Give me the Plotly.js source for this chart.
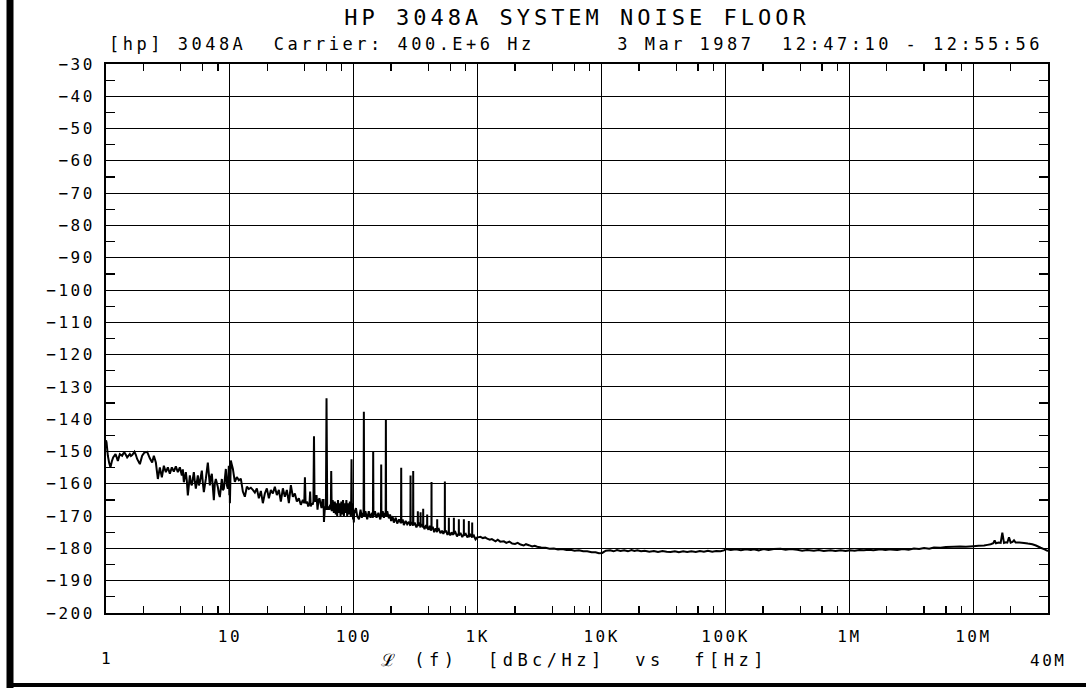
<!DOCTYPE html>
<html>
<head>
<meta charset="utf-8">
<script src="https://cdn.plot.ly/plotly-3.0.1.min.js"></script>
<style>
  html, body { margin: 0; padding: 0; background: #fff; }
  #chart { width: 1086px; height: 688px; }
  #chart .gtitle { letter-spacing: 4px; }
  #chart .xtick text { letter-spacing: 2.5px; }
  #chart .ytick text { letter-spacing: 2.5px; }
</style>
</head>
<body>
<div id="chart"></div>
<script>
// ---- Data: offset frequency (Hz) and L(f) (dBc/Hz) ----
const freqLow = [
  1.0, 1.01, 1.035, 1.06, 1.087, 1.115, 1.142, 1.193, 1.22, 1.246, 1.293, 1.35, 1.38, 1.41, 1.445,
  1.482, 1.557, 1.59, 1.626, 1.698, 1.74, 1.784, 1.876, 1.958, 2.0, 2.045, 2.149, 2.2, 2.258, 2.358,
  2.433, 2.525, 2.621, 2.72, 2.823, 2.93, 3.041, 3.156, 3.275, 3.399, 3.527, 3.661, 3.8, 3.944,
  4.093, 4.17, 4.248, 4.408, 4.49, 4.576, 4.749, 4.84, 4.928, 5.115, 5.21, 5.309, 5.51, 5.62, 5.719,
  5.935, 6.05, 6.16, 6.393, 6.51, 6.635, 6.887, 7.01, 7.147, 7.418, 7.55, 7.699, 7.99, 8.14, 8.293,
  8.607, 8.77, 8.933, 9.271, 9.45, 9.623, 9.8, 9.9, 9.95, 10.0
];
const levelLow = [
  -146.5, -147.2, -151.3, -153.5, -154.9, -153.0, -151.8, -150.8, -151.8, -152.9, -150.8, -151.3, -150.6, -150.3, -151.0,
  -151.8, -150.8, -151.4, -151.1, -150.1, -151.0, -152.3, -153.9, -151.3, -150.8, -150.3, -150.1, -151.0, -152.1, -153.4,
  -151.3, -153.4, -158.5, -154.9, -158.0, -154.4, -156.4, -154.9, -156.9, -154.9, -156.2, -154.6, -156.4, -154.9,
  -157.4, -155.5, -159.5, -156.4, -159.0, -163.6, -157.4, -159.8, -160.5, -156.4, -159.2, -161.5, -157.4, -160.5, -159.5,
  -155.9, -159.8, -162.6, -158.5, -156.0, -153.4, -160.5, -158.0, -156.9, -165.1, -160.0, -158.5, -161.0, -163.0, -164.1,
  -158.5, -162.0, -161.5, -155.4, -160.5, -161.5, -154.4, -163.5, -155.0, -166.0
];

const freqMid = [
  10.17, 10.35, 10.56, 10.96, 11.37, 11.81, 12.25, 12.72, 13.2, 13.7, 14.21, 14.75, 15.31, 15.89, 16.5,
  17.12, 17.77, 18.44, 19.14, 19.87, 20.62, 21.4, 22.21, 23.05, 23.93, 24.83, 25.77, 26.75, 27.76, 28.81,
  29.9, 31.03, 32.21, 33.42, 34.69, 36.0, 37.36, 38.78, 39.8, 40.3, 40.8, 42.0, 42.81, 43.9, 44.4, 44.9,
  45.56, 46.5, 47.2, 47.7, 48.2, 49.08, 50.0, 50.93, 51.9, 52.86, 53.8, 54.87, 55.9, 56.94, 57.4, 58.5,
  59.5, 60.2, 61.0, 62.0, 62.9, 64.5, 65.2, 65.7, 66.3, 67.5, 69.0, 70.2, 71.5, 72.4, 73.4, 74.5, 75.8,
  77.0, 78.1, 79.3, 80.5, 81.8, 83.1, 84.4, 85.8, 87.1, 88.4, 89.8, 91.3, 92.9, 94.5, 95.1, 95.8, 96.5,
  97.5, 98.5, 99.3, 100.0, 100.7
];
const levelMid = [
  -152.8, -154.0, -155.3, -159.4, -157.9, -158.9, -158.4, -162.4, -164.0, -160.9, -161.6, -161.2, -161.9, -162.7, -161.4,
  -164.5, -162.2, -166.0, -163.0, -161.4, -164.5, -161.9, -163.0, -160.9, -163.5, -161.9, -165.5, -161.4, -164.0, -161.9,
  -166.0, -160.4, -164.0, -163.0, -165.5, -164.5, -166.5, -165.0, -166.0, -158.0, -166.0, -165.5, -167.0, -166.0, -162.4, -167.0,
  -166.0, -166.5, -165.5, -145.3, -165.0, -165.5, -163.5, -168.0, -165.0, -164.5, -166.0, -167.5, -165.0, -165.0, -171.8, -167.0,
  -168.0, -133.5, -168.0, -167.0, -168.0, -166.5, -168.0, -156.0, -168.5, -165.0, -169.0, -165.5, -169.5, -166.0, -170.0, -165.0, -169.0,
  -166.0, -170.0, -165.5, -169.5, -165.0, -170.0, -166.0, -169.0, -165.0, -170.0, -166.0, -169.5, -165.5, -170.0, -168.0, -152.4, -168.0,
  -166.0, -171.0, -168.0, -172.0, -168.5
];

const freqHigh = [
  101.5, 104, 106.5, 110, 113.3, 116, 118.5, 119.8, 120.5, 121.3, 124, 128.2, 132, 136.4, 140.5, 142.6, 143.3,
  144, 148, 152.5, 158, 163.5, 165.6, 166.3, 167, 171, 174.8, 178.5, 180.6, 181.4, 182.2, 186, 191.8, 196,
  200, 205, 210.5, 218, 223.9, 232, 238, 240.4, 241.2, 242, 248, 253.4, 262, 269.6, 278, 286, 286.8, 287.6,
  294, 300.6, 301.4, 302.2, 310, 320, 328, 328.6, 329.3, 338, 345, 345.6, 346.3, 352, 362.2, 362.9, 363.6,
  372, 382, 390.2, 390.9, 391.6, 400, 410, 418, 423, 423.6, 424.3, 433, 445, 457, 470, 470.8, 471.6, 485,
  500, 515, 528, 542, 542.9, 543.8, 556, 570, 584, 584.8, 585.6, 600, 615, 630, 641, 641.7, 642.5, 660, 680,
  703, 704, 705, 725, 750, 772, 772.6, 773.4, 800, 825, 847, 847.7, 848.5, 870, 901, 902, 903, 930, 960, 990, 1021
];
const levelHigh = [
  -169.0, -167.5, -170.0, -171.0, -168.0, -170.5, -169.0, -170.0, -137.7, -170.0, -168.5, -171.0, -168.5, -170.5, -169.0, -170.5, -149.8,
  -170.0, -168.5, -170.5, -169.0, -171.0, -170.0, -154.0, -170.0, -168.5, -170.5, -169.0, -170.0, -140.0, -170.0, -168.5, -170.7, -169.5,
  -171.5, -170.0, -172.0, -170.5, -172.3, -171.0, -172.0, -172.0, -155.0, -172.0, -171.0, -172.8, -171.5, -172.5, -171.8, -173.0, -157.4, -172.5,
  -171.8, -173.0, -156.0, -172.8, -172.0, -173.5, -172.5, -168.5, -173.0, -172.0, -173.5, -168.8, -173.0, -172.5, -173.5, -167.7, -173.0,
  -174.0, -172.8, -173.8, -169.5, -173.5, -174.2, -173.0, -174.5, -174.0, -159.4, -174.0, -173.3, -175.0, -173.8, -175.0, -171.0, -174.5, -174.0,
  -175.3, -174.5, -175.5, -174.5, -159.3, -175.0, -174.5, -175.8, -175.0, -170.5, -175.0, -176.0, -175.0, -175.8, -175.2, -170.5, -175.5, -175.0, -176.3,
  -175.3, -171.0, -176.0, -175.2, -176.5, -175.6, -171.0, -176.0, -175.5, -176.6, -175.8, -171.5, -176.5, -175.8, -176.6, -172.0, -176.5, -176.0, -177.2, -176.6, -176.5
];

const freqFloor = [
  1050, 1100, 1150, 1192, 1250, 1300, 1392, 1450, 1520, 1625, 1700, 1800, 1897, 2000, 2100, 2215, 2350, 2450,
  2586, 2750, 2880, 3020, 3250, 3526, 3800, 4116, 4450, 4806, 5200, 5610, 6050, 6550, 7100, 7647, 8300, 8929,
  9500, 10107, 10800, 11700, 12500, 13300, 14200, 15200, 16300, 17400, 18400, 19400, 20800, 22300, 24200,
  26400, 28500, 31000, 33500, 36000, 39000, 42000, 45500, 49000, 53000, 57500, 62000, 66900, 72000, 78000,
  84000, 91000, 97000, 101000, 110000, 121000, 133000, 146000, 160000, 169000, 185000, 203000, 222000, 245000,
  278000, 305000, 335000, 378700, 415000, 455000, 516000, 565000, 620000, 704000, 770000, 850000, 930000, 1008000,
  1100000, 1200000, 1307000, 1430000, 1560000, 1782000, 1950000, 2150000, 2429000, 2700000, 3000000, 3311000,
  3650000, 4000000, 4400000, 4800000, 5430000, 6000000, 6960000, 7800000, 8700000, 10000000, 11000000, 12200000,
  13000000, 13780000, 14480000, 14840000, 15210000, 16000000, 16600000, 17120000, 17660000, 18300000, 18780000,
  19380000, 19990000, 20700000, 21270000, 21930000, 23500000, 25610000, 27500000, 29900000, 32000000, 34900000,
  37500000, 40000000
];
const levelFloor = [
  -176.4, -176.8, -176.6, -177.0, -177.3, -177.1, -177.8, -177.3, -177.9, -177.8, -178.3, -177.9, -178.5, -178.6, -178.3, -178.8, -179.1, -178.7,
  -179.0, -179.4, -179.2, -179.5, -179.7, -179.8, -180.1, -180.0, -180.3, -180.2, -180.5, -180.4, -180.7, -180.6, -180.9, -180.9, -181.2, -181.2,
  -181.5, -181.4, -180.7, -180.6, -180.9, -180.5, -180.8, -180.6, -180.9, -180.5, -180.8, -180.6, -180.9, -180.7, -181.0,
  -180.8, -181.1, -180.8, -181.0, -181.1, -180.9, -181.2, -180.9, -181.1, -180.9, -181.1, -180.8, -181.0, -180.7, -181.0,
  -180.8, -180.9, -180.6, -180.2, -180.5, -180.3, -180.6, -180.3, -180.5, -180.3, -180.6, -180.2, -180.5, -180.2,
  -180.1, -180.4, -180.2, -180.4, -180.7, -180.5, -180.7, -180.5, -180.8, -180.6, -180.8, -180.6, -180.8, -180.6,
  -180.7, -180.5, -180.6, -180.4, -180.6, -180.3, -180.5, -180.3, -180.5, -180.2, -180.4, -180.0,
  -180.2, -179.9, -180.1, -179.7, -179.8, -179.6, -179.5, -179.4, -179.5, -179.3, -179.2, -179.1,
  -178.9, -178.7, -178.4, -177.5, -178.4, -178.2, -178.3, -175.1, -178.3, -178.1, -178.2,
  -176.6, -178.2, -178.0, -177.5, -178.2, -178.2, -178.3, -178.5, -178.7, -179.1, -179.8,
  -180.3, -180.8
];

const majorFreqTicks = [10, 100, 1e3, 1e4, 1e5, 1e6, 1e7];
const majorFreqText = ['10', '100', '1K', '10K', '100K', '1M', '10M'];
const levelTicks = [-200, -190, -180, -170, -160, -150, -140, -130, -120, -110, -100, -90, -80, -70, -60, -50, -40, -30];

const titleText = 'HP 3048A SYSTEM NOISE FLOOR';
const subtitleText = '[hp] 3048A\u00a0\u00a0Carrier: 400.E+6 Hz\u00a0\u00a0\u00a0\u00a0\u00a0\u00a03 Mar 1987\u00a0\u00a012:47:10 - 12:55:56';
const axisTitleText = '\u2112 (f)\u00a0\u00a0[dBc/Hz]\u00a0\u00a0vs\u00a0\u00a0f[Hz]';

// ---- Build chart ----
const freq = freqLow.concat(freqMid, freqHigh, freqFloor);
const level = levelLow.concat(levelMid, levelHigh, levelFloor);

const minorX = [];
for (let k = 0; k <= 7; k++) {
  [2, 4, 6, 8].forEach(m => { const v = m * Math.pow(10, k); if (v < 4e7) minorX.push(v); });
}
const minorY = levelTicks.slice(0, -1).map(v => v + 5);

const FONT = 'DejaVu Sans Mono, Liberation Mono, monospace';
const trace = {
  x: freq, y: level, type: 'scatter', mode: 'lines',
  line: { color: '#000', width: 2, simplify: false },
  hoverinfo: 'skip'
};

const W = 1086, H = 688, L = 106, R = 38, T = 64, B = 75;
const pw = W - L - R, ph = H - T - B;
const px = x => (x - L) / pw;        // pixel -> paper x
const py = y => (H - B - y) / ph;    // pixel -> paper y

const layout = {
  width: W, height: H,
  margin: { l: L, r: R, t: T, b: B, pad: 0 },
  paper_bgcolor: '#fff', plot_bgcolor: '#fff',
  showlegend: false,
  font: { family: FONT, color: '#000', size: 16 },
  title: {
    text: titleText, font: { family: FONT, size: 22, color: '#000' },
    xref: 'paper', x: 0.5, xanchor: 'center',
    yref: 'container', y: 1 - 17 / H, yanchor: 'middle'
  },
  xaxis: {
    type: 'log', range: [0, Math.log10(4e7)],
    tickmode: 'array', tickvals: majorFreqTicks, ticktext: majorFreqText,
    ticks: '', showgrid: true, gridcolor: '#000', gridwidth: 1,
    showline: true, linecolor: '#000', linewidth: 2, mirror: 'ticks',
    zeroline: false, ticklabelstandoff: 8,
    tickfont: { family: FONT, size: 16, color: '#000' },
    minor: { tickmode: 'array', tickvals: minorX, ticks: 'inside', ticklen: 7, tickwidth: 1.3, tickcolor: '#000', showgrid: false },
    fixedrange: true
  },
  yaxis: {
    range: [-200, -30],
    tickmode: 'array', tickvals: levelTicks, ticktext: levelTicks.map(v => '\u2212' + Math.abs(v)),
    ticks: '', showgrid: true, gridcolor: '#000', gridwidth: 1,
    showline: true, linecolor: '#000', linewidth: 2, mirror: 'ticks',
    zeroline: false, ticklabelstandoff: 6,
    tickfont: { family: FONT, size: 16, color: '#000' },
    minor: { tickmode: 'array', tickvals: minorY, ticks: 'inside', ticklen: 9, tickwidth: 1.3, tickcolor: '#000', showgrid: false },
    fixedrange: true
  },
  annotations: [
    { text: '<span style="letter-spacing:3.5px">' + subtitleText + '</span>', xref: 'paper', yref: 'paper',
      x: px(107), y: py(44), xanchor: 'left', yanchor: 'middle', showarrow: false,
      font: { family: FONT, size: 17, color: '#000' } },
    { text: '1', xref: 'paper', yref: 'paper', x: px(106), y: py(658), xanchor: 'center', yanchor: 'middle',
      showarrow: false, font: { family: FONT, size: 16, color: '#000' } },
    { text: '<span style="letter-spacing:2.5px">40M</span>', xref: 'paper', yref: 'paper', x: px(1068), y: py(660),
      xanchor: 'right', yanchor: 'middle', showarrow: false, font: { family: FONT, size: 16, color: '#000' } },
    { text: '<span style="letter-spacing:4.5px">' + axisTitleText + '</span>', xref: 'paper', yref: 'paper',
      x: px(574), y: py(660), xanchor: 'center', yanchor: 'middle', showarrow: false,
      font: { family: FONT, size: 17, color: '#000' } }
  ],
  shapes: [
    { type: 'line', xref: 'paper', yref: 'paper', x0: px(10), x1: px(10), y0: py(0), y1: py(688),
      line: { color: '#000', width: 7 } },
    { type: 'line', xref: 'paper', yref: 'paper', x0: px(7), x1: px(1086), y0: py(685), y1: py(685),
      line: { color: '#000', width: 4 } }
  ]
};

Plotly.newPlot('chart', [trace], layout, { staticPlot: true, displayModeBar: false });
</script>
</body>
</html>
